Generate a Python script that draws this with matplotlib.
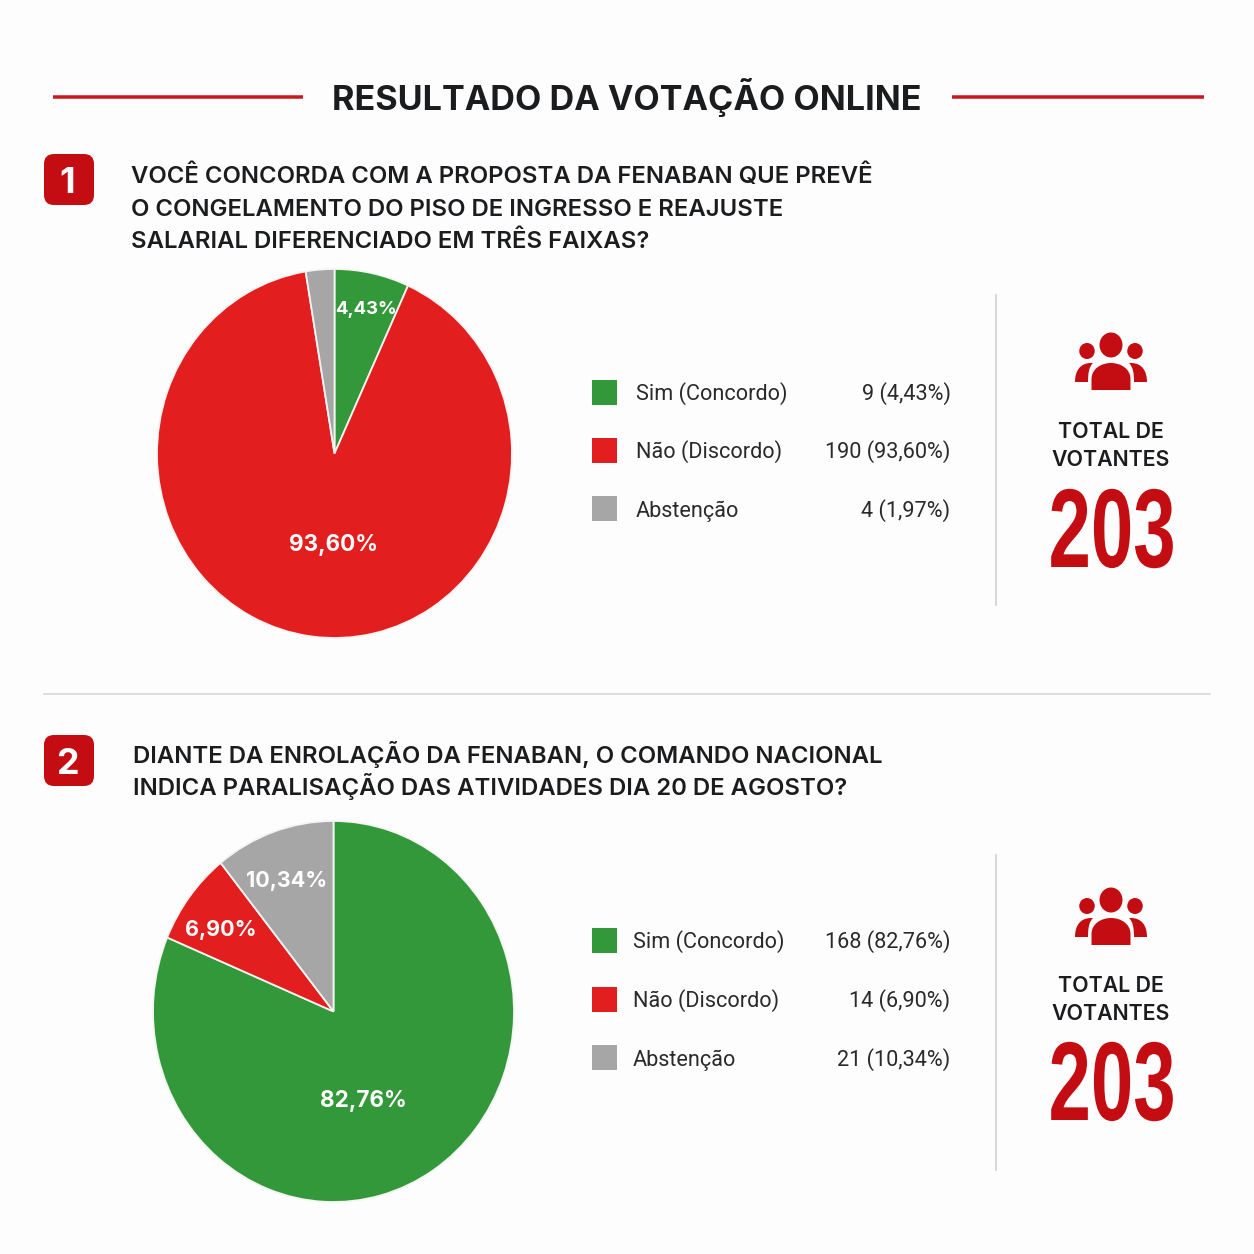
import matplotlib
matplotlib.use("Agg")
import matplotlib.pyplot as plt
from matplotlib.patches import FancyBboxPatch, Rectangle, Ellipse, PathPatch
from matplotlib.path import Path
from matplotlib.patheffects import AbstractPathEffect
from matplotlib.transforms import Affine2D

W = 1254
BG = "#fdfdfd"; DARK = "#1b1c1e"; RED = "#c40d12"
HEAD = "Inter"; BODY = "Roboto"; NARROW = "Liberation Sans"

title = "RESULTADO DA VOTAÇÃO ONLINE"
categories = ["Sim (Concordo)", "Não (Discordo)", "Abstenção"]
colors = ["#339839", "#e21e1e", "#a6a6a6"]
q1_lines = ["VOCÊ CONCORDA COM A PROPOSTA DA FENABAN QUE PREVÊ",
            "O CONGELAMENTO DO PISO DE INGRESSO E REAJUSTE",
            "SALARIAL DIFERENCIADO EM TRÊS FAIXAS?"]
q2_lines = ["DIANTE DA ENROLAÇÃO DA FENABAN, O COMANDO NACIONAL",
            "INDICA PARALISAÇÃO DAS ATIVIDADES DIA 20 DE AGOSTO?"]
q1_counts = ["9 (4,43%)", "190 (93,60%)", "4 (1,97%)"]
q2_counts = ["168 (82,76%)", "14 (6,90%)", "21 (10,34%)"]
# slice shares as drawn in the picture (they differ from the printed labels)
q1_drawn = [6.8, 90.6, 2.6]
q2_drawn = [81.35, 7.9, 10.75]
total = "203"

class SqueezeX(AbstractPathEffect):
    """Narrow a text horizontally about a display x position."""
    def __init__(self, cx_frac, sx):
        super().__init__()
        self.cx_frac, self.sx = cx_frac, sx
    def draw_path(self, renderer, gc, tpath, affine, rgbFace=None):
        cx = self.cx_frac*renderer.width
        a = affine + Affine2D().translate(-cx, 0).scale(self.sx, 1).translate(cx, 0)
        renderer.draw_path(gc, tpath, a, rgbFace)

fig = plt.figure(figsize=(W/100, W/100), dpi=100, facecolor=BG)
ax = fig.add_axes([0, 0, 1, 1]); ax.set_xlim(0, W); ax.set_ylim(W, 0); ax.axis("off")
px = lambda p: p*0.72

def T(x, y, s, size, fam=BODY, weight="normal", color=DARK, ha="left", va="baseline", zorder=5):
    return ax.text(x, y, s, fontsize=px(size), family=fam, weight=weight, color=color, ha=ha, va=va, zorder=zorder)

T(627, 110, title, 34.2, HEAD, "bold", ha="center")
for a, b in [(53, 303), (952, 1204)]:
    ax.plot([a, b], [97, 97], color="#c8191e", lw=px(3.5), solid_capstyle="butt")
ax.plot([44, 1210], [694, 694], color="#d6d6d6", lw=px(1.6))

def badge(y, s):
    ax.add_patch(FancyBboxPatch((54, y+10), 30, 31, boxstyle="round,pad=10,rounding_size=10", fc=RED, ec="none"))
    T(67.5, y+39, s, 36, HEAD, "bold", "white", ha="center")

def icon(y):
    cx = 1111
    ax.add_patch(Ellipse((cx, y+12), 23, 25, fc=RED, ec="none"))
    for dx in (-24, 24):
        ax.add_patch(Ellipse((cx+dx, y+18), 15.5, 16, fc=RED, ec="none"))
    M, L, C, Z = Path.MOVETO, Path.LINETO, Path.CURVE4, Path.CLOSEPOLY
    ax.add_patch(PathPatch(Path(
        [(cx-19.5, y+57), (cx-19.5, y+46), (cx-19.5, y+36), (cx-10, y+30), (cx, y+30),
         (cx+10, y+30), (cx+19.5, y+36), (cx+19.5, y+46), (cx+19.5, y+57), (cx-19.5, y+57)],
        [M, L, C, C, C, C, C, C, L, Z]), fc=RED, ec="none", lw=0))
    for s in (-1, 1):
        ax.add_patch(PathPatch(Path(
            [(cx+s*36, y+49), (cx+s*36, y+38), (cx+s*31, y+30), (cx+s*20, y+30),
             (cx+s*18, y+30), (cx+s*18, y+30),
             (cx+s*22, y+34), (cx+s*23, y+40), (cx+s*23, y+49), (cx+s*36, y+49)],
            [M, C, C, C, L, L, C, C, C, Z]), fc=RED, ec="none", lw=0))

def section(q_lines, q_x, q_y, badge_y, badge_s, drawn, counts, leg_ys, sq_ys, leg_x, pie_box, labels, vline, ic_y, tot_y):
    badge(badge_y, badge_s)
    for i, line in enumerate(q_lines):
        T(q_x, q_y[i], line, 23.9, HEAD, "semibold")
    x0, x1, y0, y1 = pie_box
    p = fig.add_axes([x0/W, 1-y1/W, (x1-x0)/W, (y1-y0)/W])
    p.pie(drawn, colors=colors, startangle=90, counterclock=False, radius=1,
          wedgeprops=dict(edgecolor="#f4f4f4", linewidth=1.3))
    p.set_aspect("auto"); p.set_xlim(-1, 1); p.set_ylim(-1, 1); p.axis("off")
    for (x, y, s, size) in labels:
        p.text((x-x0)/(x1-x0)*2-1, 1-(y-y0)/(y1-y0)*2, s, fontsize=px(size), family=HEAD, weight="bold",
               color="white", ha="center", va="center_baseline")
    for c, name, cnt, ly, sy in zip(colors, categories, counts, leg_ys, sq_ys):
        ax.add_patch(Rectangle((592, sy), 25, 25, fc=c, ec="none"))
        T(leg_x, ly, name, 21.7, BODY, color="#2a2a2a")
        T(950.5, ly, cnt, 21.7, BODY, color="#2a2a2a", ha="right")
    ax.plot([996, 996], vline, color="#cfcfcf", lw=px(1.6))
    icon(ic_y)
    T(1111, tot_y[0], "TOTAL DE", 21.3, HEAD, "semibold", ha="center")
    T(1111, tot_y[1], "VOTANTES", 21.3, HEAD, "semibold", ha="center")
    t = T(1112, tot_y[2], total, 112, NARROW, "bold", RED, ha="center")
    t.set_path_effects([SqueezeX(1112/W, 0.68)])

section(q1_lines, 131, [183.5, 215.5, 248.5], 154, "1", q1_drawn, q1_counts, [400, 458, 517], [380, 438, 496], 636,
        (157, 512, 269, 638),
        [(366, 307, "4,43%", 18.5), (333, 543, "93,60%", 22.5)], [295, 605], 333, [438.5, 466.5, 567])
section(q2_lines, 133, [763.5, 795.5], 735, "2", q2_drawn, q2_counts, [948, 1007, 1066], [928, 987, 1045], 633,
        (153, 514, 821, 1202),
        [(287, 879, "10,34%", 21.5), (221, 928, "6,90%", 21.5), (363, 1099, "82,76%", 22.5)], [855, 1170], 888, [991.5, 1019.5, 1120])

fig.savefig("out.png", dpi=100, facecolor=BG)
